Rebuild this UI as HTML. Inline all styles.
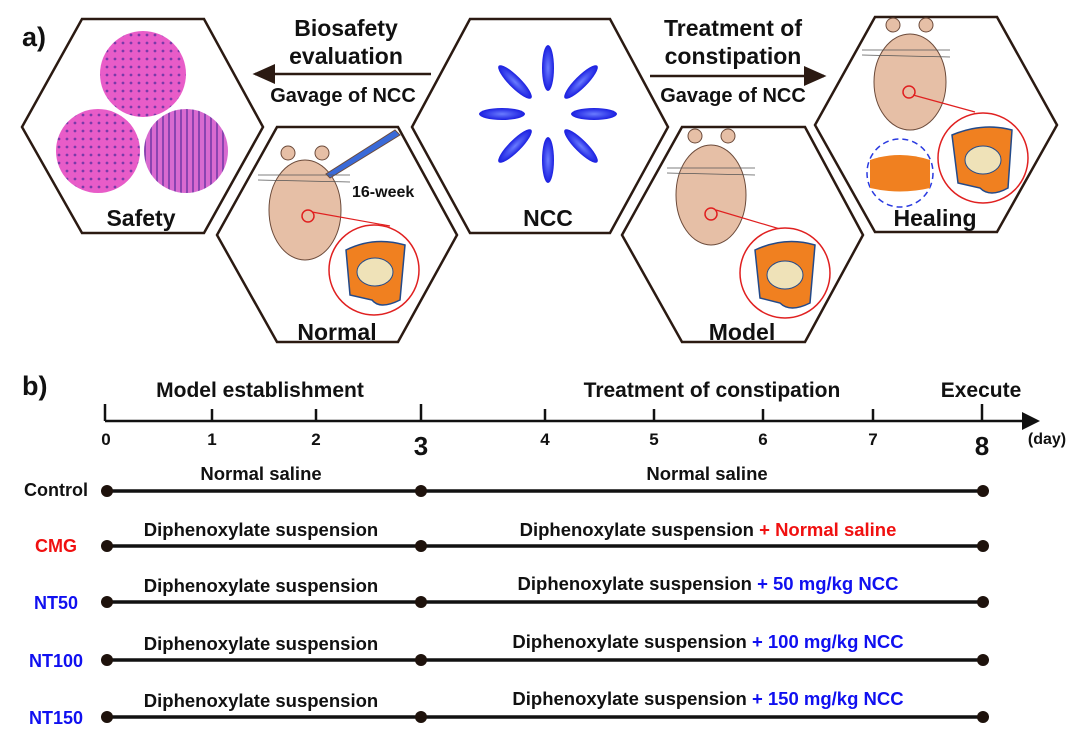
<!DOCTYPE html>
<html><head><meta charset="utf-8"><style>
html,body{margin:0;padding:0;background:#fff}
svg{display:block}
text{font-family:"Liberation Sans",Arial,sans-serif;font-weight:bold}
</style></head><body>
<svg width="1080" height="745" viewBox="0 0 1080 745" xmlns="http://www.w3.org/2000/svg">
<defs>
<pattern id="he" width="8" height="8" patternUnits="userSpaceOnUse"><rect width="8" height="8" fill="#e85cc8"/><circle cx="3" cy="3" r="1.4" fill="#7a3aa8"/></pattern>
<pattern id="he2" width="6" height="10" patternUnits="userSpaceOnUse"><rect width="6" height="10" fill="#d86ad0"/><rect x="0" y="0" width="2" height="10" fill="#8a44b0"/></pattern>
<radialGradient id="bl"><stop offset="0" stop-color="#6a7cff"/><stop offset="1" stop-color="#1a1ee0"/></radialGradient>
<marker id="ah" markerWidth="10" markerHeight="10" refX="8" refY="5" orient="auto"><path d="M0,1 L9,5 L0,9 Z" fill="#2b1a12"/></marker>
</defs>

<text x="22" y="46" font-size="27" fill="#111">a)</text>

<g fill="none" stroke="#2b1a12" stroke-width="2.5">
<polygon points="82,19 204,19 263,127 204,233 82,233 22,127"/>
<polygon points="277,127 398,127 457,235 398,342 277,342 217,235"/>
<polygon points="470,19 610,19 668,127 610,233 470,233 412,127"/>
<polygon points="682,127 805,127 863,235 805,342 682,342 622,235"/>
<polygon points="875,17 997,17 1057,125 997,232 875,232 815,125"/>
</g>

<circle cx="143" cy="74" r="43" fill="url(#he)"/>
<circle cx="98" cy="151" r="42" fill="url(#he)"/>
<circle cx="186" cy="151" r="42" fill="url(#he2)"/>
<text x="141" y="226" font-size="23" text-anchor="middle" fill="#111">Safety</text>

<text x="346" y="36" font-size="23" text-anchor="middle" fill="#111">Biosafety</text>
<text x="346" y="64" font-size="23" text-anchor="middle" fill="#111">evaluation</text>
<line x1="431" y1="74" x2="255" y2="74" stroke="#2b1a12" stroke-width="2.5" marker-end="url(#ah)"/>
<text x="343" y="102" font-size="20" text-anchor="middle" fill="#111">Gavage of NCC</text>

<text x="733" y="36" font-size="23" text-anchor="middle" fill="#111">Treatment of</text>
<text x="733" y="64" font-size="23" text-anchor="middle" fill="#111">constipation</text>
<line x1="650" y1="76" x2="824" y2="76" stroke="#2b1a12" stroke-width="2.5" marker-end="url(#ah)"/>
<text x="733" y="102" font-size="20" text-anchor="middle" fill="#111">Gavage of NCC</text>

<g fill="url(#bl)">
<ellipse cx="548" cy="68" rx="6" ry="23"/>
<ellipse cx="548" cy="160" rx="6" ry="23"/>
<ellipse cx="502" cy="114" rx="23" ry="6"/>
<ellipse cx="594" cy="114" rx="23" ry="6"/>
<ellipse cx="515" cy="82" rx="6" ry="23" transform="rotate(-45 515 82)"/>
<ellipse cx="581" cy="82" rx="6" ry="23" transform="rotate(45 581 82)"/>
<ellipse cx="515" cy="146" rx="6" ry="23" transform="rotate(45 515 146)"/>
<ellipse cx="581" cy="146" rx="6" ry="23" transform="rotate(-45 581 146)"/>
</g>
<text x="548" y="226" font-size="23" text-anchor="middle" fill="#111">NCC</text>

<!-- Normal mouse -->
<g stroke="#6b4a3a" stroke-width="1" fill="#e6bfa6">
<circle cx="288" cy="153" r="7"/><circle cx="322" cy="153" r="7"/>
<ellipse cx="305" cy="210" rx="36" ry="50"/>
<path d="M400,135 L330,178 L326,174 L395,130 Z" fill="#3a6ad8"/>
</g>
<g stroke="#555" stroke-width="0.8"><line x1="258" y1="175" x2="350" y2="175"/><line x1="258" y1="180" x2="350" y2="182"/></g>
<text x="352" y="197" font-size="16" fill="#111">16-week</text>
<circle cx="308" cy="216" r="6" fill="none" stroke="#e02020" stroke-width="1.5"/>
<line x1="312" y1="212" x2="390" y2="226" stroke="#e02020" stroke-width="1.2"/>
<circle cx="374" cy="270" r="45" fill="#fff" stroke="#e02020" stroke-width="1.5"/>
<path d="M346,250 Q374,236 405,245 L400,300 Q380,310 372,300 L350,295 Z" fill="#f08020" stroke="#234a8a" stroke-width="1.5"/>
<ellipse cx="375" cy="272" rx="18" ry="14" fill="#efe2b8" stroke="#234a8a"/>
<text x="337" y="340" font-size="23" text-anchor="middle" fill="#111">Normal</text>

<!-- Model mouse -->
<g stroke="#6b4a3a" stroke-width="1" fill="#e6bfa6">
<circle cx="695" cy="136" r="7"/><circle cx="728" cy="136" r="7"/>
<ellipse cx="711" cy="195" rx="35" ry="50"/>
</g>
<g stroke="#555" stroke-width="0.8"><line x1="667" y1="168" x2="755" y2="168"/><line x1="667" y1="173" x2="755" y2="175"/></g>
<circle cx="711" cy="214" r="6" fill="none" stroke="#e02020" stroke-width="1.5"/>
<line x1="716" y1="210" x2="790" y2="232" stroke="#e02020" stroke-width="1.2"/>
<circle cx="785" cy="273" r="45" fill="#fff" stroke="#e02020" stroke-width="1.5"/>
<path d="M755,250 Q785,236 815,245 L810,303 Q790,313 780,303 L760,298 Z" fill="#f08020" stroke="#234a8a" stroke-width="1.5"/>
<ellipse cx="785" cy="275" rx="18" ry="14" fill="#efe2b8" stroke="#234a8a"/>
<text x="742" y="340" font-size="23" text-anchor="middle" fill="#111">Model</text>

<!-- Healing mouse -->
<g stroke="#6b4a3a" stroke-width="1" fill="#e6bfa6">
<circle cx="893" cy="25" r="7"/><circle cx="926" cy="25" r="7"/>
<ellipse cx="910" cy="82" rx="36" ry="48"/>
</g>
<g stroke="#555" stroke-width="0.8"><line x1="862" y1="50" x2="950" y2="50"/><line x1="862" y1="55" x2="950" y2="57"/></g>
<circle cx="909" cy="92" r="6" fill="none" stroke="#e02020" stroke-width="1.5"/>
<line x1="913" y1="95" x2="975" y2="112" stroke="#e02020" stroke-width="1.2"/>
<circle cx="983" cy="158" r="45" fill="#fff" stroke="#e02020" stroke-width="1.5"/>
<path d="M952,135 Q983,122 1012,130 L1008,188 Q990,198 980,188 L958,183 Z" fill="#f08020" stroke="#234a8a" stroke-width="1.5"/>
<ellipse cx="983" cy="160" rx="18" ry="14" fill="#efe2b8" stroke="#234a8a"/>
<ellipse cx="900" cy="173" rx="33" ry="34" fill="#fff" stroke="#2a3ae0" stroke-width="1.5" stroke-dasharray="6,4"/>
<path d="M870,160 Q900,150 930,160 L930,188 Q900,195 870,188 Z" fill="#f08020"/>
<text x="935" y="226" font-size="23" text-anchor="middle" fill="#111">Healing</text>

<!-- Part b -->
<text x="22" y="395" font-size="27" fill="#111">b)</text>
<text x="260" y="397" font-size="21" text-anchor="middle" fill="#111">Model establishment</text>
<text x="712" y="397" font-size="21" text-anchor="middle" fill="#111">Treatment of constipation</text>
<text x="981" y="397" font-size="21" text-anchor="middle" fill="#111">Execute</text>
<line x1="105" y1="421" x2="1028" y2="421" stroke="#111" stroke-width="2.5"/>
<path d="M1022,412 L1040,421 L1022,430 Z" fill="#111"/>
<g stroke="#111" stroke-width="2.5">
<line x1="105" y1="404" x2="105" y2="421"/><line x1="421" y1="404" x2="421" y2="421"/><line x1="982" y1="404" x2="982" y2="421"/>
<line x1="212" y1="409" x2="212" y2="421"/><line x1="316" y1="409" x2="316" y2="421"/>
<line x1="545" y1="409" x2="545" y2="421"/><line x1="654" y1="409" x2="654" y2="421"/>
<line x1="763" y1="409" x2="763" y2="421"/><line x1="873" y1="409" x2="873" y2="421"/>
</g>
<g font-size="17" text-anchor="middle" fill="#111">
<text x="106" y="445">0</text><text x="212" y="445">1</text><text x="316" y="445">2</text>
<text x="545" y="445">4</text><text x="654" y="445">5</text><text x="763" y="445">6</text><text x="873" y="445">7</text>
</g>
<text x="421" y="455" font-size="26" text-anchor="middle" fill="#111">3</text>
<text x="982" y="455" font-size="26" text-anchor="middle" fill="#111">8</text>
<text x="1047" y="444" font-size="16" text-anchor="middle" fill="#111">(day)</text>

<g stroke="#111" stroke-width="3.5">
<line x1="107" y1="491" x2="983" y2="491"/>
<line x1="107" y1="546" x2="983" y2="546"/>
<line x1="107" y1="602" x2="983" y2="602"/>
<line x1="107" y1="660" x2="983" y2="660"/>
<line x1="107" y1="717" x2="983" y2="717"/>
</g>
<g fill="#1e120c">
<circle cx="107" cy="491" r="6"/><circle cx="421" cy="491" r="6"/><circle cx="983" cy="491" r="6"/>
<circle cx="107" cy="546" r="6"/><circle cx="421" cy="546" r="6"/><circle cx="983" cy="546" r="6"/>
<circle cx="107" cy="602" r="6"/><circle cx="421" cy="602" r="6"/><circle cx="983" cy="602" r="6"/>
<circle cx="107" cy="660" r="6"/><circle cx="421" cy="660" r="6"/><circle cx="983" cy="660" r="6"/>
<circle cx="107" cy="717" r="6"/><circle cx="421" cy="717" r="6"/><circle cx="983" cy="717" r="6"/>
</g>
<g font-size="18" text-anchor="middle">
<text x="56" y="496" fill="#111">Control</text>
<text x="56" y="552" fill="#f01010">CMG</text>
<text x="56" y="609" fill="#1010f0">NT50</text>
<text x="56" y="667" fill="#1010f0">NT100</text>
<text x="56" y="724" fill="#1010f0">NT150</text>
</g>
<g font-size="18.5" text-anchor="middle" fill="#111">
<text x="261" y="480">Normal saline</text>
<text x="707" y="480">Normal saline</text>
<text x="261" y="536">Diphenoxylate suspension</text>
<text x="261" y="592">Diphenoxylate suspension</text>
<text x="261" y="650">Diphenoxylate suspension</text>
<text x="261" y="707">Diphenoxylate suspension</text>
<text x="708" y="536">Diphenoxylate suspension <tspan fill="#f01010">+ Normal saline</tspan></text>
<text x="708" y="590">Diphenoxylate suspension <tspan fill="#1010f0">+ 50 mg/kg NCC</tspan></text>
<text x="708" y="648">Diphenoxylate suspension <tspan fill="#1010f0">+ 100 mg/kg NCC</tspan></text>
<text x="708" y="705">Diphenoxylate suspension <tspan fill="#1010f0">+ 150 mg/kg NCC</tspan></text>
</g>
</svg>
</body></html>
